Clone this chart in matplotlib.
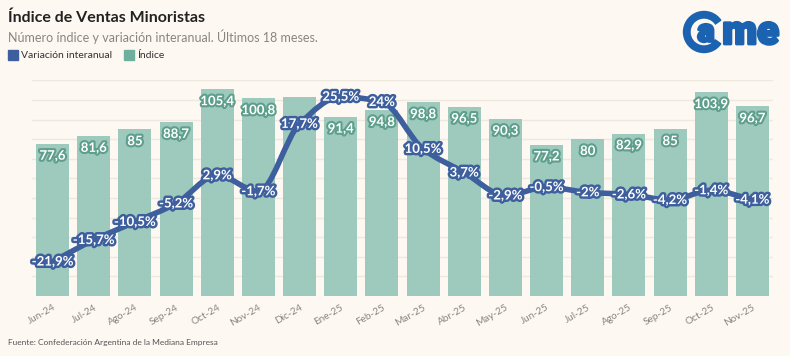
import matplotlib
matplotlib.use("Agg")
import matplotlib.pyplot as plt
import matplotlib.patheffects as pe
from matplotlib.path import Path
from matplotlib.patches import PathPatch, Wedge
import numpy as np

months = ["Jun-24", "Jul-24", "Ago-24", "Sep-24", "Oct-24", "Nov-24", "Dic-24",
          "Ene-25", "Feb-25", "Mar-25", "Abr-25", "May-25", "Jun-25", "Jul-25",
          "Ago-25", "Sep-25", "Oct-25", "Nov-25"]
indice = [77.6, 81.6, 85, 88.7, 105.4, 100.8, 101.6, 91.4, 94.8, 98.8, 96.5,
          90.3, 77.2, 80, 82.9, 85, 103.9, 96.7]
variacion = [-21.9, -15.7, -10.5, -5.2, 2.9, -1.7, 17.7, 25.5, 24, 10.5, 3.7,
             -2.9, -0.5, -2, -2.6, -4.2, -1.4, -4.1]
hide_bar_label = ["Dic-24"]

BG = "#FDF8F2"
BAR = "#96C6B9"
BAR_DARK = "#5E9E8C"
LINE = "#3E5F9E"
FONT = "Lato"

plt.rcParams["font.family"] = [FONT, "DejaVu Sans"]
fig = plt.figure(figsize=(7.9, 3.56), dpi=100, facecolor=BG)
ax = fig.add_axes([32 / 790, 1 - 296 / 356, 741 / 790, 215.6 / 356])
ax.set_facecolor(BG)
x = np.arange(len(months))

# bars + grid
ax.set_ylim(0, 110)
ax.set_xlim(-0.5, len(months) - 0.5)
for g in range(10, 111, 10):
    ax.axhline(g, color="#EEE8DF", lw=1, zorder=0)
ax.bar(x, indice, width=0.8, color=BAR, alpha=0.92, zorder=1)
for xi, v, m in zip(x, indice, months):
    if m in hide_bar_label:
        continue
    ax.annotate(f"{v:g}".replace(".", ","), (xi, v), xytext=(0, -8.5),
                textcoords="offset points", ha="center", va="center",
                fontsize=9.5, fontweight="bold", color="white", zorder=3,
                path_effects=[pe.withStroke(linewidth=3, foreground=BAR_DARK)])
for s in ax.spines.values():
    s.set_visible(False)
ax.set_yticks([])
ax.set_xticks(x)
ax.set_xticklabels(months, rotation=30, ha="right", rotation_mode="anchor",
                   fontsize=7.2, color="#8A8580")
ax.tick_params(axis="x", length=0, pad=5)

# line (monotone cubic, as bezier path)
ax2 = ax.twinx()
ax2.set_ylim(-31.8, 30.2)
ax2.axis("off")
xs = x.astype(float)
ys = np.array(variacion, dtype=float)
d = np.diff(ys) / np.diff(xs)
m = np.zeros_like(ys)
m[0], m[-1] = d[0], d[-1]
for i in range(1, len(ys) - 1):
    if d[i - 1] * d[i] <= 0:
        m[i] = 0
    else:
        m[i] = 2 / (1 / d[i - 1] + 1 / d[i])
verts = [(xs[0], ys[0])]
codes = [Path.MOVETO]
for i in range(len(ys) - 1):
    h = xs[i + 1] - xs[i]
    verts += [(xs[i] + h / 3, ys[i] + m[i] * h / 3),
              (xs[i + 1] - h / 3, ys[i + 1] - m[i + 1] * h / 3),
              (xs[i + 1], ys[i + 1])]
    codes += [Path.CURVE4] * 3
ax2.add_patch(PathPatch(Path(verts, codes), facecolor="none", edgecolor=LINE,
                        lw=4, capstyle="round", joinstyle="round", zorder=4))
for xi, v in zip(x, variacion):
    ax2.annotate(f"{v:g}%".replace(".", ","), (xi, v), ha="center", va="center",
                 fontsize=9.5, fontweight="bold", color="white", zorder=5,
                 path_effects=[pe.withStroke(linewidth=3.5, foreground=LINE)])

# header
fig.text(8 / 790, 1 - 18 / 356, "Índice de Ventas Minoristas", fontsize=11.5,
         fontweight="bold", color="#222222", va="center")
fig.text(8 / 790, 1 - 37 / 356,
         "Número índice y variación interanual. Últimos 18 meses.",
         fontsize=9, color="#8A8580", va="center")
fig.patches.append(plt.Rectangle((8 / 790, 1 - 60 / 356), 10 / 790, 10 / 356,
                                 transform=fig.transFigure, color=LINE))
fig.text(21 / 790, 1 - 55 / 356, "Variación interanual", fontsize=7.5,
         color="#333333", va="center")
fig.patches.append(plt.Rectangle((124 / 790, 1 - 60 / 356), 10 / 790, 10 / 356,
                                 transform=fig.transFigure, color="#6FAF9D"))
fig.text(137 / 790, 1 - 55 / 356, "Índice", fontsize=7.5, color="#333333",
         va="center")
fig.text(8 / 790, 1 - 343 / 356,
         "Fuente: Confederación Argentina de la Mediana Empresa", fontsize=6,
         color="#555555", va="center")

# logo (pixel-unit axes)
LOGO = "#1B63B0"
thick = [pe.withStroke(linewidth=2, foreground=LOGO)]
lax = fig.add_axes([682 / 790, 1 - 54 / 356, 98 / 790, 44 / 356])
lax.set_xlim(0, 98)
lax.set_ylim(0, 44)
lax.axis("off")
lax.add_patch(Wedge((22, 22), 20.5, 35, 325, width=6.5, color=LOGO))
lax.text(24, 21.5, "a", fontsize=23, fontweight="heavy", color=LOGO,
         va="center", ha="center", family=["Roboto", "DejaVu Sans"],
         path_effects=thick)
lax.text(97, 21.5, "me", fontsize=29, fontweight="heavy", color=LOGO,
         va="center", ha="right", family=["Roboto", "DejaVu Sans"],
         path_effects=thick)

fig.savefig("out.png", dpi=100, facecolor=BG)
